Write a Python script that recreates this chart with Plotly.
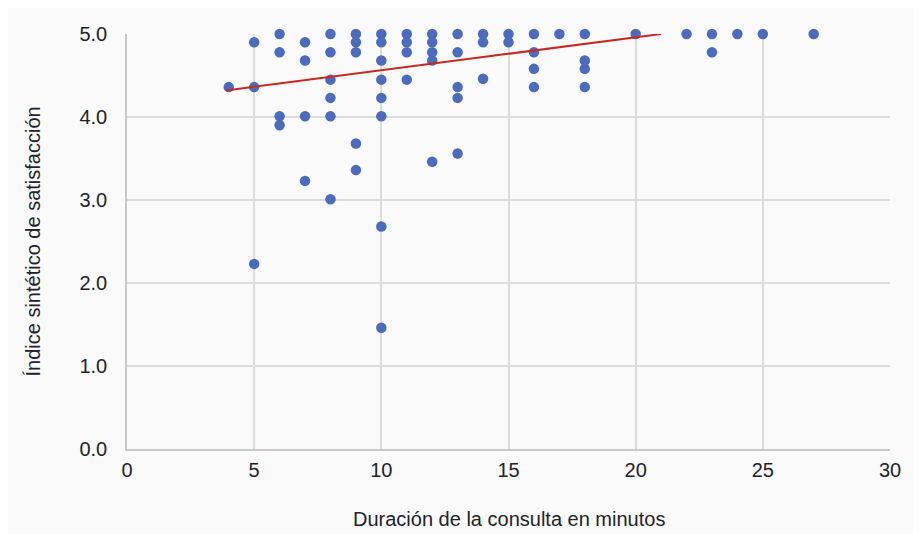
import plotly.graph_objects as go

# Duración de la consulta (min) y el índice sintético de satisfacción
duracion = [4,
            5, 5, 5,
            6, 6, 6, 6,
            7, 7, 7, 7,
            8, 8, 8, 8, 8, 8,
            9, 9, 9, 9, 9,
            10, 10, 10, 10, 10, 10, 10, 10,
            11, 11, 11, 11,
            12, 12, 12, 12, 12,
            13, 13, 13, 13, 13,
            14, 14, 14,
            15, 15,
            16, 16, 16, 16,
            17,
            18, 18, 18, 18,
            20, 22, 23, 23, 24, 25, 27]
indice = [4.36,
          4.90, 4.36, 2.23,
          5.00, 4.78, 4.01, 3.90,
          4.90, 4.68, 4.01, 3.23,
          5.00, 4.78, 4.45, 4.23, 4.01, 3.01,
          5.00, 4.90, 4.78, 3.68, 3.36,
          5.00, 4.90, 4.68, 4.45, 4.23, 4.01, 2.68, 1.46,
          5.00, 4.90, 4.78, 4.45,
          5.00, 4.90, 4.78, 4.68, 3.46,
          5.00, 4.78, 4.36, 4.23, 3.56,
          5.00, 4.90, 4.46,
          5.00, 4.90,
          5.00, 4.78, 4.58, 4.36,
          5.00,
          5.00, 4.68, 4.58, 4.36,
          5.00, 5.00, 5.00, 4.78, 5.00, 5.00, 5.00]

# Línea de tendencia
tendencia_x = [3.9, 21.0]
tendencia_y = [4.32, 5.00]

x_ticks = [0, 5, 10, 15, 20, 25, 30]
y_ticks = [0, 1, 2, 3, 4, 5]

FONT = "Liberation Sans, Arial, sans-serif"
GRID = "#dcdcdc"
BG = "#fafafa"
TXT = "#22222c"

fig = go.Figure()
fig.add_trace(go.Scatter(
    x=duracion, y=indice, mode="markers",
    marker=dict(color="#4a6bbf", size=10.5, line=dict(width=0)),
    cliponaxis=False, showlegend=False, hoverinfo="x+y"))
fig.add_trace(go.Scatter(
    x=tendencia_x, y=tendencia_y, mode="lines",
    line=dict(color="#c8281e", width=2),
    showlegend=False, hoverinfo="skip"))

fig.update_layout(
    width=922, height=534,
    margin=dict(l=119, r=40, t=26, b=93),
    paper_bgcolor=BG, plot_bgcolor=BG,
    font=dict(family=FONT, size=20, color=TXT),
    xaxis=dict(range=[0, 30], tickvals=x_ticks, ticktext=[str(v) for v in x_ticks],
               showgrid=True, gridcolor=GRID, gridwidth=1.5,
               showline=True, linecolor="#c8c8c8", linewidth=1.5,
               zeroline=False, ticks="", ticklen=0, ticklabelstandoff=2,
               tickfont=dict(family=FONT, size=20, color=TXT)),
    yaxis=dict(range=[0, 5], tickvals=y_ticks, ticktext=[f"{v:.1f}" for v in y_ticks],
               showgrid=True, gridcolor=GRID, gridwidth=1.5,
               showline=True, linecolor="#c8c8c8", linewidth=1.5,
               zeroline=False, ticks="", ticklen=0, ticklabelstandoff=14,
               tickfont=dict(family=FONT, size=20, color=TXT)),
    annotations=[
        dict(text="Duración de la consulta en minutos", xref="paper", yref="paper",
             x=0.5, y=-0.1687, xanchor="center", yanchor="middle", showarrow=False,
             font=dict(family=FONT, size=20, color=TXT)),
        dict(text="Índice sintético de satisfacción", xref="paper", yref="paper",
             x=-0.1232, y=0.5, xanchor="center", yanchor="middle", showarrow=False,
             textangle=-90, font=dict(family=FONT, size=20, color=TXT)),
    ],
)

fig.write_html("out.html")
